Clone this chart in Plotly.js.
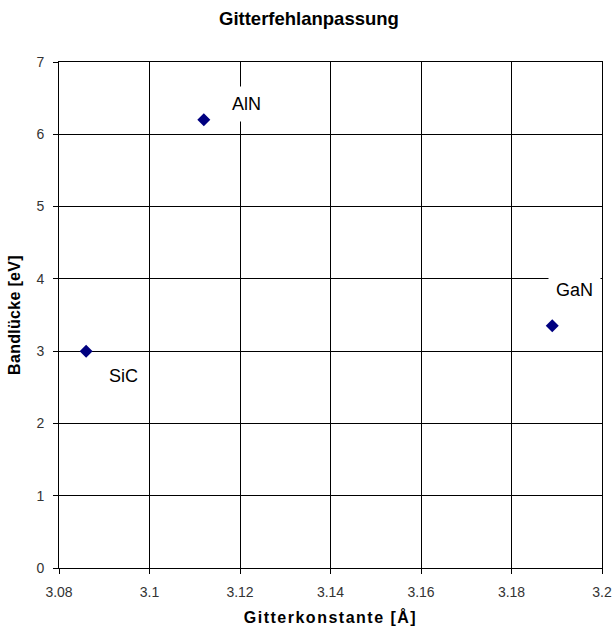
<!DOCTYPE html>
<html>
<head>
<meta charset="utf-8">
<script src="https://cdn.plot.ly/plotly-3.0.1.min.js"></script>
<style>
html,body{margin:0;padding:0;background:#fff;}
#chart{width:613px;height:630px;}
#chart .xtitle{letter-spacing:1.5px;}
#chart .ytitle{letter-spacing:0.3px;}
</style>
</head>
<body>
<div id="chart"></div>
<script>
const materials = ["SiC", "AlN", "GaN"];
const latticeConstants = [3.086, 3.112, 3.189];
const bandGaps = [3.0, 6.2, 3.35];
const labelShiftX = [37, 43, 22];
const labelShiftY = [-25, 16, 36];
const xTickVals = [3.08, 3.1, 3.12, 3.14, 3.16, 3.18, 3.2];
const xTickText = ["3.08", "3.1", "3.12", "3.14", "3.16", "3.18", "3.2"];

const trace = {
  x: latticeConstants,
  y: bandGaps,
  mode: "markers",
  type: "scatter",
  marker: {symbol: "diamond", size: 10, color: "#000080"},
  hoverinfo: "x+y"
};

const annotations = materials.map((m, i) => ({
  x: latticeConstants[i], y: bandGaps[i], xref: "x", yref: "y",
  text: m, showarrow: false,
  xshift: labelShiftX[i], yshift: labelShiftY[i],
  font: {family: "Arial, Liberation Sans, sans-serif", size: 18, color: "#000"},
  bgcolor: "#ffffff", borderpad: 7
}));

const layout = {
  width: 613, height: 630,
  margin: {l: 59, r: 11, t: 62, b: 62},
  paper_bgcolor: "#fff", plot_bgcolor: "#fff",
  showlegend: false,
  font: {family: "Arial, Liberation Sans, sans-serif", color: "#000"},
  title: {text: "<b>Gitterfehlanpassung</b>", x: 0.504, xanchor: "center", y: 0.971, yanchor: "middle",
          font: {size: 18.5, family: "Arial, Liberation Sans, sans-serif", color: "#000"}},
  xaxis: {
    range: [3.08, 3.2],
    tickmode: "array", tickvals: xTickVals, ticktext: xTickText,
    showgrid: true, gridcolor: "#000", gridwidth: 1,
    showline: true, linecolor: "#000", linewidth: 1, mirror: true,
    ticks: "outside", ticklen: 5, tickcolor: "#000",
    ticklabelstandoff: 6,
    zeroline: false,
    tickfont: {size: 14, color: "#333"},
    title: {text: "<b>Gitterkonstante [Å]</b>", font: {size: 16}, standoff: 13}
  },
  yaxis: {
    range: [0, 7], dtick: 1,
    showgrid: true, gridcolor: "#000", gridwidth: 1,
    showline: true, linecolor: "#000", linewidth: 1, mirror: true,
    ticks: "outside", ticklen: 5, tickcolor: "#000",
    ticklabelstandoff: 6,
    zeroline: false,
    tickfont: {size: 14, color: "#333"},
    title: {text: "<b>Bandlücke [eV]</b>", font: {size: 16}, standoff: 11}
  },
  annotations: annotations
};

Plotly.newPlot("chart", [trace], layout, {displayModeBar: false, staticPlot: true});
</script>
</body>
</html>
